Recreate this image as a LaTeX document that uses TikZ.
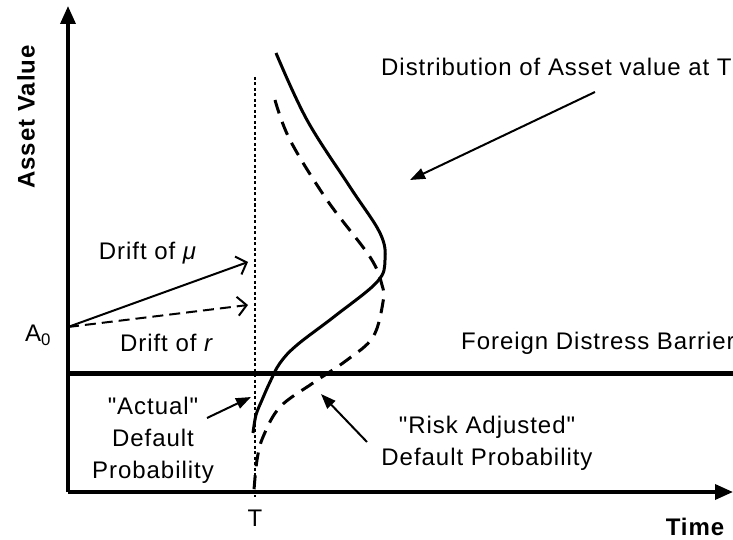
\documentclass[tikz,border=0pt]{standalone}
\usepackage{fontspec}
\setmainfont{Liberation Sans}
\newfontfamily\lblfont[LetterSpace=4]{Liberation Sans}
\newcommand{\sq}{\char34\relax}
\usetikzlibrary{arrows.meta}
\begin{document}
\begin{tikzpicture}[x=1pt,y=-1pt,
  lbl/.style={inner sep=0pt,font=\lblfont\fontsize{24}{32}\selectfont,align=center},
  bold lbl/.style={inner sep=0pt,font=\lblfont\fontsize{24}{31}\selectfont\bfseries},
  axisline/.style={line width=3.5pt,-{Triangle[length=18pt,width=15pt]}},
  pointer/.style={line width=2pt,-{Triangle[length=15pt,width=11pt]}},
  driftarrow/.style={line width=2pt,-{Straight Barb[length=9pt,width=19pt,line width=2pt]}},
  distcurve/.style={line width=3pt},
  riskcurve/.style={line width=3pt,dash pattern=on 14pt off 9pt}]
\useasboundingbox (0,0) rectangle (733,540);
% axes
\coordinate (O) at (68,492);
\coordinate (ytop) at (68,6);
\coordinate (xend) at (733,492);
\draw[axisline] (O) -- (ytop);
\draw[axisline] (O) -- (xend);
% barrier
\coordinate (b0) at (68,373);
\coordinate (b1) at (733,373);
\draw[line width=5pt] (b0) -- (b1);
% T line
\coordinate (T0) at (255,77);
\coordinate (T1) at (255,497);
\draw[line width=2pt,dash pattern=on 3pt off 2.5pt] (T0) -- (T1);
% curves
\draw[distcurve] plot[smooth,tension=0.6] coordinates {(276,53) (307,120) (350,187) (380,233) (385,260) (377,282) (335,316) (297,345) (280,363) (270,382) (262,400) (256,415) (253,433)};
\draw[riskcurve] plot[smooth,tension=0.6] coordinates {(275,100) (290,140) (327,200) (370,257) (382,285) (383,302) (373,337) (347,360) (313,383) (280,407) (263,437) (257,460) (254,490)};
% drift arrows
\coordinate (A0pt) at (68,327);
\coordinate (mutip) at (248,262);
\coordinate (rtip) at (248,305);
\draw[driftarrow] (A0pt) -- (mutip);
\draw[driftarrow,dash pattern=on 11pt off 6pt] (A0pt) -- (rtip);
% labels
\node[bold lbl,rotate=90] (yl) at (26,117) {Asset Value};
\node[bold lbl] (xl) at (695,527) {Time};
\node[lbl] (tl) at (255,518) {T};
\node[lbl] (a0) at (38,335) {A\textsubscript{0}};
\node[lbl] (mu) at (148,253) {Drift of \textit{μ}};
\node[lbl] (rr) at (167,343) {Drift of \textit{r}};
\node[lbl,anchor=west] (dist) at (381,67) {Distribution of Asset value at T};
\node[lbl,anchor=west] (bar) at (461,343) {Foreign Distress Barrier};
\node[lbl] (act) at (153,440) {\sq Actual\sq\\Default\\Probability};
\node[lbl] (risk) at (487,443) {\sq Risk Adjusted\sq\\Default Probability};
% pointers
\coordinate (ds) at (595,92);
\coordinate (dt) at (410,180);
\coordinate (as) at (207,418);
\coordinate (at) at (251,397);
\coordinate (rs) at (367,442);
\coordinate (rt) at (321,394);
\draw[pointer] (ds) -- (dt);
\draw[pointer] (as) -- (at);
\draw[pointer] (rs) -- (rt);
\end{tikzpicture}
\end{document}
